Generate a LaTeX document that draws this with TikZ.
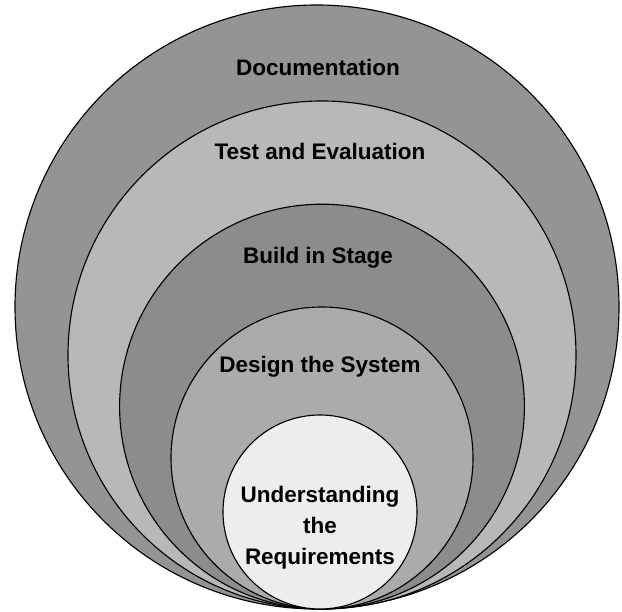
\documentclass[tikz,border=0pt]{standalone}
\usepackage{fontspec}
\setmainfont{Liberation Sans}
\begin{document}
\begin{tikzpicture}[
  ring/.style={circle,draw=black,line width=0.8pt,inner sep=0pt,outer sep=0pt},
  lbl/.style={font=\bfseries\fontsize{16}{22}\selectfont,align=center}]
\useasboundingbox (0,0) rectangle (15.55,15.3);

\node[ring,fill=black!42,minimum size=15.1cm] (doc) at (7.925,7.625) {};
\node[ring,fill=black!28,minimum size=12.7cm] (test) at (8.05,6.425) {};
\node[ring,fill=black!45,minimum size=10.12cm] (build) at (8.05,5.135) {};
\node[ring,fill=black!33,minimum size=7.55cm] (design) at (8.05,3.85) {};
\node[ring,fill=black!7,minimum size=4.85cm] (req) at (8.0,2.5) {};

\node[lbl] (tdoc) at (7.95,13.62) {Documentation};
\node[lbl] (ttest) at (8.0,11.52) {Test and Evaluation};
\node[lbl] (tbuild) at (7.95,8.85) {Build in Stage};
\node[lbl] (tdesign) at (8.0,6.12) {Design the System};
\node[lbl] (treq) at (8.0,2.1) {Understanding\\the\\Requirements};
\end{tikzpicture}
\end{document}
